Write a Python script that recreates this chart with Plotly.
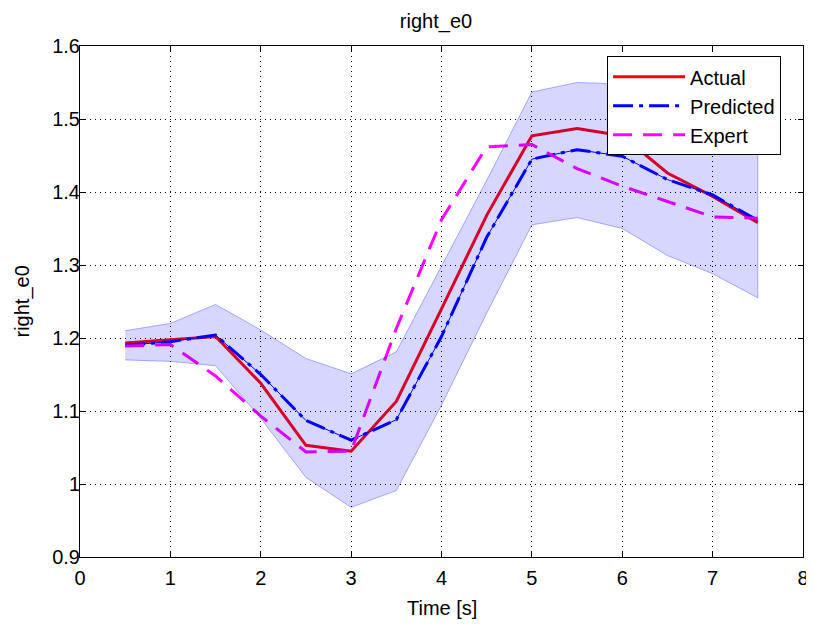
import plotly.graph_objects as go

time_s = [0.5, 1, 1.5, 2, 2.5, 3, 3.5, 4, 4.5, 5, 5.5, 6, 6.5, 7, 7.5]
actual = [1.193, 1.198, 1.202, 1.138, 1.053, 1.045, 1.113, 1.240, 1.368, 1.477, 1.487, 1.477, 1.426, 1.394, 1.358]
predicted = [1.190, 1.195, 1.204, 1.150, 1.087, 1.060, 1.088, 1.202, 1.338, 1.445, 1.458, 1.449, 1.417, 1.396, 1.361]
expert = [1.189, 1.191, 1.148, 1.093, 1.044, 1.045, 1.213, 1.362, 1.462, 1.465, 1.432, 1.408, 1.387, 1.366, 1.364]
band_upper = [1.210, 1.220, 1.246, 1.211, 1.172, 1.151, 1.181, 1.298, 1.416, 1.537, 1.550, 1.548, 1.520, 1.490, 1.460]
band_lower = [1.170, 1.168, 1.162, 1.090, 1.009, 0.968, 0.991, 1.108, 1.234, 1.355, 1.365, 1.350, 1.313, 1.288, 1.255]

x_ticks = [0, 1, 2, 3, 4, 5, 6, 7, 8]
y_ticks = [0.9, 1.0, 1.1, 1.2, 1.3, 1.4, 1.5, 1.6]
y_ticklabels = ["0.9", "1", "1.1", "1.2", "1.3", "1.4", "1.5", "1.6"]

FONT = "Liberation Sans, Arial, Helvetica, sans-serif"

# the page adds an 8px body margin, so the figure is sized to fit inside it
FIG_W, FIG_H = 806, 618

fig = go.Figure()

fig.add_trace(go.Scatter(x=time_s, y=actual, mode="lines", name="Actual",
                         line=dict(color="rgb(255,0,0)", width=3)))
fig.add_trace(go.Scatter(x=time_s, y=predicted, mode="lines", name="Predicted",
                         line=dict(color="rgb(0,0,255)", width=3, dash="20px,6px,4px,6px")))
fig.add_trace(go.Scatter(x=time_s, y=predicted, mode="lines", showlegend=False,
                         line=dict(color="rgb(0,0,255)", width=1), hoverinfo="skip"))
fig.add_trace(go.Scatter(x=time_s, y=expert, mode="lines", name="Expert",
                         line=dict(color="rgb(255,0,255)", width=3, dash="19px,11px")))

# uncertainty band drawn on top (semi-transparent), like the original
band_x = time_s + time_s[::-1]
band_y = band_upper + band_lower[::-1]
fig.add_trace(go.Scatter(x=band_x, y=band_y, mode="lines", fill="toself",
                         fillcolor="rgba(0,0,255,0.16)",
                         line=dict(color="rgba(60,60,255,0.40)", width=1),
                         showlegend=False, hoverinfo="skip"))

axis_common = dict(
    showline=True, linecolor="black", linewidth=1, mirror="ticks",
    ticks="inside", ticklen=5, tickcolor="black",
    showgrid=True, gridcolor="black", gridwidth=1, griddash="1px,4px",
    zeroline=False, automargin=False,
    tickfont=dict(family=FONT, size=20, color="black"),
)

fig.update_xaxes(range=[0, 8], tickvals=x_ticks, ticklabelstandoff=3, **axis_common)
fig.update_yaxes(range=[0.9, 1.6], tickvals=y_ticks, ticktext=y_ticklabels,
                 ticklabelstandoff=-5, **axis_common)

fig.update_layout(
    width=FIG_W, height=FIG_H,
    margin=dict(l=72, r=11, t=38, b=69, autoexpand=False),
    paper_bgcolor="white", plot_bgcolor="white",
    title=dict(text="right_e0", x=428 / FIG_W, xanchor="center", xref="container",
               y=1 - 13 / FIG_H, yanchor="middle", yref="container",
               font=dict(family=FONT, size=20, color="black")),
    legend=dict(x=0.729, y=0.980, xanchor="left", yanchor="top",
                bgcolor="white", bordercolor="black", borderwidth=1,
                font=dict(family=FONT, size=20, color="black"),
                itemwidth=72, entrywidth=185, tracegroupgap=0),
    showlegend=True,
    annotations=[
        dict(text="Time [s]", xref="paper", yref="paper", x=0.5, y=(549 - 600) / 511,
             xanchor="center", yanchor="middle", showarrow=False,
             font=dict(family=FONT, size=20, color="black")),
        dict(text="right_e0", xref="paper", yref="paper", x=(14 - 72) / 723, y=0.5,
             xanchor="center", yanchor="middle", showarrow=False, textangle=-90,
             font=dict(family=FONT, size=20, color="black")),
    ],
)

fig.write_html("out.html")
